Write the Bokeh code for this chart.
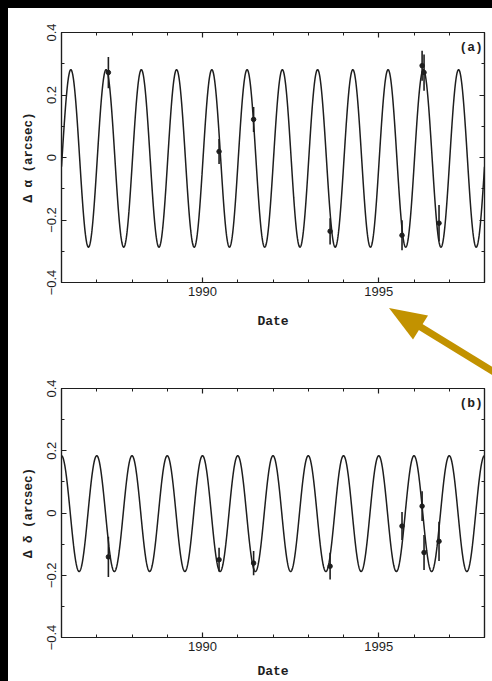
import numpy as np
from bokeh.plotting import figure
from bokeh.layouts import column
from bokeh.models import (LinearAxis, SingleIntervalTicker, CustomJSTickFormatter,
                          Whisker, ColumnDataSource, Label, Range1d, Div)
from bokeh.embed import file_html
from bokeh.resources import INLINE

# ---- data ----
obs_dates = [1987.33, 1990.47, 1991.45, 1993.62, 1995.66, 1996.23, 1996.285, 1996.71]
d_alpha = [0.272, 0.019, 0.122, -0.236, -0.249, 0.294, 0.272, -0.210]
d_alpha_err = [0.050, 0.040, 0.040, 0.042, 0.048, 0.048, 0.058, 0.058]
d_delta = [-0.141, -0.150, -0.161, -0.171, -0.042, 0.022, -0.127, -0.091]
d_delta_err = [0.065, 0.038, 0.039, 0.043, 0.045, 0.048, 0.056, 0.063]

# fitted parallax-model parameters (period in years)
model_period = 1.0
alpha_amp = 0.284
alpha_zero_epoch = 1986.015
alpha_offset = -0.003
delta_amp = 0.186
delta_peak_epoch = 1986.0
delta_offset = -0.002

x_start, x_end = 1986.0, 1998.0
y_start, y_end = -0.4, 0.4

t_model = np.linspace(x_start, x_end, 1500)
alpha_model = alpha_offset + alpha_amp * np.sin(2 * np.pi * (t_model - alpha_zero_epoch) / model_period)
delta_model = delta_offset + delta_amp * np.cos(2 * np.pi * (t_model - delta_peak_epoch) / model_period)

INK = "#1e1e1e"
GOLD = "#c29200"
TICK_FONT = "Liberation Sans"
LABEL_FONT = "Liberation Mono"

yfmt_code = """
const v = Math.round(tick*10)/10;
if (v === 0) return '0';
return (v < 0 ? '\u2212' : '') + Math.abs(v).toFixed(1);
"""


def style_axis(ax, show_labels):
    ax.major_tick_in = 5
    ax.major_tick_out = 0
    ax.minor_tick_in = 3
    ax.minor_tick_out = 0
    ax.axis_line_color = INK
    ax.axis_line_width = 1.2
    ax.major_tick_line_color = INK
    ax.minor_tick_line_color = INK
    ax.major_tick_line_width = 1.2
    ax.minor_tick_line_width = 1.0
    if show_labels:
        ax.major_label_text_font = TICK_FONT
        ax.major_label_text_font_size = "13px"
        ax.major_label_text_color = INK
        ax.axis_label_text_font = LABEL_FONT
        ax.axis_label_text_font_style = "bold"
        ax.axis_label_text_font_size = "12.5px"
        ax.axis_label_text_color = INK
    else:
        ax.formatter = CustomJSTickFormatter(code="return '';")
        ax.major_label_standoff = 0
        ax.axis_label = None


def make_panel(height, top, bottom, yvals, yerr, model, ylabel, tag, date_standoff):
    p = figure(width=484, height=height, output_backend="svg", toolbar_location=None,
               x_range=Range1d(x_start, x_end), y_range=Range1d(y_start, y_end),
               x_axis_location=None, y_axis_location=None,
               min_border_left=53, min_border_right=8,
               min_border_top=top, min_border_bottom=bottom)
    p.grid.visible = False
    p.background_fill_color = "white"
    p.border_fill_color = "white"
    p.outline_line_color = INK
    p.outline_line_width = 1.2

    xb = LinearAxis(ticker=SingleIntervalTicker(interval=5, num_minor_ticks=5), axis_label="Date")
    style_axis(xb, True)
    xb.major_label_standoff = 4
    xb.axis_label_standoff = date_standoff
    xb.axis_label_text_font_size = "13px"
    p.add_layout(xb, "below")

    xt = LinearAxis(ticker=SingleIntervalTicker(interval=5, num_minor_ticks=5))
    style_axis(xt, False)
    p.add_layout(xt, "above")

    yl = LinearAxis(ticker=SingleIntervalTicker(interval=0.2, num_minor_ticks=2),
                    formatter=CustomJSTickFormatter(code=yfmt_code), axis_label=ylabel)
    style_axis(yl, True)
    yl.major_label_orientation = "vertical"
    yl.major_label_standoff = 6
    yl.axis_label_standoff = 8
    p.add_layout(yl, "left")

    yr = LinearAxis(ticker=SingleIntervalTicker(interval=0.2, num_minor_ticks=2))
    style_axis(yr, False)
    p.add_layout(yr, "right")

    p.line(t_model, model, line_color=INK, line_width=1.5)

    src = ColumnDataSource(dict(
        x=obs_dates, y=yvals,
        lo=[v - e for v, e in zip(yvals, yerr)],
        hi=[v + e for v, e in zip(yvals, yerr)],
    ))
    w = Whisker(source=src, base="x", lower="lo", upper="hi", dimension="height",
                line_color=INK, line_width=1.6)
    w.upper_head = None
    w.lower_head = None
    p.add_layout(w)
    p.scatter("x", "y", source=src, size=4.5, color=INK)

    p.add_layout(Label(x=1997.62, y=0.352, text=tag, text_font=LABEL_FONT,
                       text_font_style="bold", text_font_size="13px", text_color=INK,
                       text_align="center", text_baseline="middle"))
    return p


pa = make_panel(367, 24, 93, d_alpha, d_alpha_err, alpha_model,
                "\u0394 \u03b1 (arcsec)", "(a)", 15)
pb = make_panel(306, 13, 43, d_delta, d_delta_err, delta_model,
                "\u0394 \u03b4 (arcsec)", "(b)", 10)

layout = column(pa, pb, spacing=0, styles={"background-color": "white"})

# decorative pointer arrow overlaid on the page (not part of the data)
arrow_svg = (
    '<svg width="116" height="90" xmlns="http://www.w3.org/2000/svg" style="display:block">'
    '<line x1="38" y1="31" x2="126" y2="85" stroke="%s" stroke-width="7"/>'
    '<polygon points="8,13 47,20.5 32,44.5" fill="%s"/>'
    '</svg>' % (GOLD, GOLD)
)
arrow_div = Div(text=arrow_svg, width=116, height=90,
                styles={"position": "absolute", "left": "376px", "top": "290px",
                        "pointer-events": "none", "z-index": "10"})

html = file_html([layout, arrow_div], INLINE, title="Parallax fit")
html = html.replace("</head>",
                    "<style>html,body{background:#000;}body{margin:8px 0 0 8px;overflow:hidden;}</style></head>", 1)
open("out.html", "w").write(html)
